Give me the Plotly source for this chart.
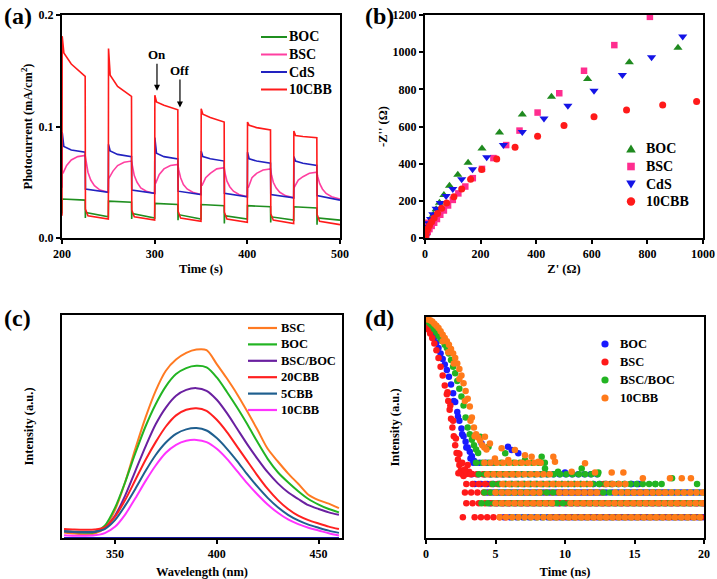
import numpy as np
import plotly.graph_objects as go

W, H = 717, 579
FONT = "Liberation Serif"

# ---------------- (a) transient photocurrent ----------------
LIGHT_ON = [200, 250, 300, 350, 400, 450]
LIGHT_OFF = [225, 275, 325, 375, 425, 475]

BOC_START = 0.022
BOC_ON_START = [0.035, 0.033, 0.031, 0.030, 0.029, 0.028]
BOC_ON_END = [0.034, 0.032, 0.030, 0.029, 0.028, 0.027]
BOC_OFF_DIP = [0.018, 0.017, 0.016, 0.013, 0.014, 0.012]
BOC_OFF_START = [0.023, 0.022, 0.021, 0.020, 0.019, 0.018]
BOC_OFF_END = [0.019, 0.018, 0.017, 0.017, 0.016, 0.016]

BSC_START = 0.060
BSC_ON_0 = [0.060, 0.053, 0.052, 0.048, 0.046, 0.047]
BSC_ON_1 = [0.058, 0.054, 0.049, 0.047, 0.045, 0.046]
BSC_ON_5 = [0.065, 0.060, 0.057, 0.054, 0.054, 0.052]
BSC_ON_10 = [0.070, 0.065, 0.062, 0.058, 0.058, 0.055]
BSC_ON_17 = [0.073, 0.068, 0.065, 0.062, 0.061, 0.058]
BSC_ON_END = [0.074, 0.069, 0.066, 0.063, 0.062, 0.059]
BSC_OFF_1 = [0.068, 0.064, 0.061, 0.058, 0.057, 0.055]
BSC_OFF_3 = [0.059, 0.056, 0.054, 0.051, 0.050, 0.049]
BSC_OFF_6 = [0.052, 0.050, 0.048, 0.046, 0.045, 0.044]
BSC_OFF_10 = [0.047, 0.045, 0.044, 0.042, 0.041, 0.040]
BSC_OFF_16 = [0.043, 0.042, 0.041, 0.039, 0.038, 0.037]
BSC_OFF_END = [0.041, 0.040, 0.039, 0.037, 0.036, 0.035]

CDS_START = 0.045
CDS_PEAK = [0.095, 0.084, 0.090, 0.078, 0.077, 0.073]
CDS_ON_2S = [0.082, 0.078, 0.076, 0.073, 0.071, 0.069]
CDS_ON_10S = [0.079, 0.075, 0.073, 0.071, 0.069, 0.067]
CDS_ON_END = [0.077, 0.073, 0.071, 0.069, 0.067, 0.065]
CDS_OFF_START = [0.044, 0.043, 0.042, 0.040, 0.039, 0.038]
CDS_OFF_END = [0.041, 0.040, 0.039, 0.037, 0.036, 0.034]

CBB10_START = 0.020
CBB10_PEAK = [0.181, 0.170, 0.128, 0.116, 0.104, 0.096]
CBB10_ON_2S = [0.166, 0.146, 0.122, 0.111, 0.101, 0.092]
CBB10_ON_10S = [0.156, 0.136, 0.119, 0.108, 0.099, 0.091]
CBB10_ON_END = [0.145, 0.127, 0.115, 0.104, 0.097, 0.090]
CBB10_OFF_START = [0.026, 0.025, 0.024, 0.023, 0.022, 0.021]
CBB10_OFF_3S = [0.020, 0.019, 0.018, 0.017, 0.016, 0.015]
CBB10_OFF_END = [0.017, 0.016, 0.015, 0.014, 0.013, 0.012]

# ---------------- (b) Nyquist plots ----------------
BOC_ZRE = [1, 3, 6, 10, 15, 22, 30, 40, 52, 68, 88, 118, 155, 205, 268, 350, 455, 585, 735, 910]
BOC_ZIM = [8, 22, 38, 55, 75, 98, 125, 155, 190, 232, 281, 341, 405, 482, 568, 665, 760, 856, 946, 1024]
BSC_ZRE = [2, 5, 10, 16, 24, 33, 43, 55, 68, 83, 100, 120, 145, 172, 205, 246, 292, 340, 405, 483, 572, 681, 809, 8]
BSC_ZIM = [8, 20, 33, 48, 65, 82, 102, 125, 148, 175, 205, 240, 277, 322, 372, 430, 500, 578, 675, 779, 900, 1038, 1190, 82]
CDS_ZRE = [1, 2, 4, 8, 13, 20, 28, 40, 55, 76, 100, 132, 171, 222, 282, 350, 428, 514, 608, 710, 815, 927]
CDS_ZIM = [10, 25, 42, 60, 80, 102, 128, 158, 188, 226, 264, 316, 370, 434, 500, 570, 643, 712, 793, 877, 972, 1084]
CBB10_ZRE = [1, 2, 5, 10, 16, 24, 33, 45, 60, 78, 104, 132, 164, 204, 258, 324, 405, 500, 608, 725, 855, 977]
CBB10_ZIM = [5, 18, 33, 50, 67, 87, 108, 132, 160, 188, 222, 264, 316, 368, 425, 488, 548, 605, 653, 689, 716, 734]

# ---------------- (c) PL spectra ----------------
WL = [325, 330, 335, 340, 345, 350, 355, 360, 365, 370, 375, 380, 385, 390,
      395, 400, 405, 410, 415, 420, 425, 430, 435, 440, 445, 450, 455, 460]
PL_BSC = [0.025, 0.020, 0.016, 0.020, 0.045, 0.125, 0.25, 0.40, 0.54, 0.66, 0.75, 0.80, 0.83, 0.845,
          0.842, 0.78, 0.715, 0.645, 0.567, 0.485, 0.40, 0.343, 0.29, 0.243, 0.194, 0.17, 0.154, 0.134]
PL_BOC = [0.030, 0.026, 0.024, 0.026, 0.055, 0.135, 0.25, 0.38, 0.50, 0.60, 0.68, 0.735, 0.762, 0.772,
          0.765, 0.72, 0.655, 0.585, 0.51, 0.43, 0.355, 0.295, 0.25, 0.21, 0.175, 0.15, 0.13, 0.115]
PL_BSCBOC = [0.030, 0.027, 0.026, 0.028, 0.045, 0.10, 0.19, 0.30, 0.41, 0.51, 0.585, 0.638, 0.664, 0.672,
             0.66, 0.62, 0.56, 0.49, 0.42, 0.355, 0.295, 0.245, 0.205, 0.175, 0.147, 0.13, 0.115, 0.104]
PL_20CBB = [0.040, 0.038, 0.037, 0.038, 0.048, 0.095, 0.17, 0.26, 0.35, 0.43, 0.50, 0.55, 0.575, 0.582,
            0.57, 0.53, 0.475, 0.41, 0.345, 0.28, 0.22, 0.17, 0.13, 0.10, 0.08, 0.065, 0.051, 0.040]
PL_5CBB = [0.030, 0.028, 0.027, 0.028, 0.040, 0.08, 0.145, 0.22, 0.30, 0.372, 0.428, 0.467, 0.487, 0.493,
           0.482, 0.448, 0.40, 0.345, 0.285, 0.23, 0.18, 0.138, 0.104, 0.079, 0.06, 0.046, 0.033, 0.023]
PL_10CBB = [0.012, 0.010, 0.010, 0.012, 0.022, 0.05, 0.105, 0.178, 0.255, 0.325, 0.382, 0.418, 0.436, 0.44,
            0.43, 0.40, 0.355, 0.30, 0.245, 0.195, 0.15, 0.113, 0.083, 0.062, 0.046, 0.034, 0.021, 0.011]

# ---------------- (d) TRPL decay ----------------
TCSPC_STEP_NS = 0.45
BOC_DECAY_T = [0.0, 0.15, 0.3, 0.45, 0.6, 0.75, 0.9, 1.05, 1.2, 1.35, 1.5, 1.65, 1.8, 1.95, 2.1, 2.25,
               2.4, 2.55, 2.7, 2.85, 3.0, 3.15, 3.3, 3.45, 3.6, 2.0, 2.3, 2.6, 2.9, 3.2,
               4.0, 5.9, 6.64, 6.16, 10.0, 14.8, 15.3]
BOC_DECAY_V = [0.975, 0.965, 0.95, 0.93, 0.91, 0.885, 0.86, 0.835, 0.81, 0.785, 0.76, 0.73, 0.695, 0.655,
               0.615, 0.57, 0.53, 0.495, 0.46, 0.435, 0.41, 0.39, 0.37, 0.35, 0.34, 0.62, 0.55, 0.47, 0.41, 0.36,
               0.428, 0.413, 0.383, 0.398, 0.296, 0.244, 0.244]
BSC_DECAY_T = [0.0, 0.15, 0.3, 0.45, 0.6, 0.75, 0.9, 1.05, 1.2, 1.35, 1.5, 1.6, 1.7, 1.8, 1.9, 2.0, 2.1,
               2.2, 2.3, 2.4, 2.5, 2.6, 2.7, 1.55, 1.75, 1.95, 2.15, 2.4, 2.6, 2.8, 2.9, 3.1, 3.3, 3.0,
               2.33, 2.57, 2.8, 2.33]
BSC_DECAY_V = [0.965, 0.945, 0.925, 0.905, 0.88, 0.85, 0.815, 0.775, 0.735, 0.69, 0.65, 0.62, 0.58, 0.54,
               0.50, 0.46, 0.42, 0.385, 0.355, 0.33, 0.305, 0.29, 0.28, 0.66, 0.60, 0.53, 0.45, 0.38, 0.34,
               0.31, 0.29, 0.30, 0.29, 0.33, 0.383, 0.338, 0.308, 0.293]
BSCBOC_DECAY_T = [0.0, 0.15, 0.3, 0.45, 0.6, 0.75, 0.9, 1.05, 1.2, 1.35, 1.5, 1.65, 1.8, 1.95, 2.1, 2.25,
                  2.4, 2.55, 2.7, 2.85, 3.0, 3.15, 3.3, 3.45, 3.6, 3.75,
                  3.9, 4.5, 5.7, 7.12, 8.32, 8.2, 8.56, 9.5, 11.2, 12.4, 16.5, 17.7, 19.5]
BSCBOC_DECAY_V = [0.985, 0.98, 0.97, 0.96, 0.945, 0.93, 0.915, 0.90, 0.89, 0.875, 0.86, 0.835, 0.805, 0.775,
                  0.745, 0.71, 0.675, 0.64, 0.60, 0.545, 0.50, 0.47, 0.445, 0.42, 0.40, 0.385,
                  0.458, 0.413, 0.383, 0.353, 0.368, 0.341, 0.315, 0.30, 0.315, 0.296, 0.244, 0.270, 0.244]
CBB10_DECAY_T = [0.0, 0.15, 0.3, 0.45, 0.6, 0.75, 0.9, 1.05, 1.2, 1.35, 1.5, 1.65, 1.8, 1.95, 2.1, 2.25,
                 2.4, 2.55, 2.7, 2.85, 3.0, 3.15, 3.3, 3.45, 3.6, 3.75, 3.9, 4.05, 4.2, 4.35,
                 1.2, 1.6, 2.0, 2.4, 2.8, 3.2, 3.5,
                 4.24, 4.6, 5.44, 6.4, 7.12, 7.6, 9.16, 11.44, 9.28, 8.08, 5.92, 4.96, 10.48, 12.16,
                 13.36, 14.2, 15.6, 17.55, 18.4, 19.06]
CBB10_DECAY_V = [0.99, 0.99, 0.985, 0.98, 0.97, 0.96, 0.95, 0.935, 0.92, 0.905, 0.89, 0.875, 0.855, 0.835,
                 0.815, 0.79, 0.765, 0.735, 0.70, 0.665, 0.63, 0.595, 0.545, 0.50, 0.47, 0.455, 0.44, 0.42,
                 0.41, 0.40,
                 0.89, 0.84, 0.79, 0.72, 0.62, 0.53, 0.46,
                 0.458, 0.428, 0.406, 0.398, 0.375, 0.368, 0.368, 0.338, 0.345, 0.345, 0.353, 0.36, 0.30,
                 0.296, 0.296, 0.296, 0.270, 0.270, 0.270, 0.270]
# quantised tail: (count level, first channel time, last channel time)
BOC_TAIL = [(0.094, 5.6, 20.0), (0.157, 4.6, 20.0), (0.206, 4.4, 20.0), (0.244, 3.5, 15.4),
            (0.288, 3.3, 12.6), (0.341, 3.4, 5.0)]
BSC_TAIL = [(0.094, 2.65, 2.75), (0.094, 3.5, 5.8), (0.094, 9.0, 20.0), (0.157, 2.9, 20.0),
            (0.206, 2.8, 13.0), (0.206, 14.5, 17.2), (0.244, 2.9, 9.5), (0.244, 12.8, 13.4),
            (0.288, 3.2, 6.5)]
BSCBOC_TAIL = [(0.094, 6.2, 20.0), (0.157, 4.0, 20.0), (0.206, 4.2, 20.0), (0.244, 4.8, 17.0),
               (0.288, 3.8, 12.6), (0.341, 3.6, 8.8)]
CBB10_TAIL = [(0.094, 5.3, 20.0), (0.157, 5.0, 9.2), (0.157, 10.4, 20.0), (0.206, 5.0, 8.5),
              (0.206, 9.6, 12.4), (0.206, 13.6, 20.0), (0.244, 5.5, 11.8), (0.244, 13.0, 14.6),
              (0.288, 4.4, 9.0), (0.341, 4.2, 8.6)]


def px_x(p):
    return p / W


def px_y(p):
    return 1 - p / H


def photo_series(start, on_knots, off_knots):
    t, y = [LIGHT_ON[0]], [start]
    for i, (ton, toff) in enumerate(zip(LIGHT_ON, LIGHT_OFF)):
        for dt, vals in on_knots:
            t.append(ton + dt)
            y.append(vals[i])
        for dt, vals in off_knots:
            t.append(toff + dt)
            y.append(vals[i])
    return t, y


def tail_points(decay_t, decay_v, tail):
    t, v = list(decay_t), list(decay_v)
    for level, t0, t1 in tail:
        ch = np.arange(t0, t1 + 1e-9, TCSPC_STEP_NS)
        t += list(ch)
        v += [level] * len(ch)
    return t, v


fig = go.Figure()

# (a)
a_series = [
    ("BOC", "#1f8f1f", photo_series(BOC_START,
        [(0.2, BOC_ON_START), (25, BOC_ON_END)],
        [(0.2, BOC_OFF_DIP), (0.5, BOC_OFF_START), (25, BOC_OFF_END)])),
    ("BSC", "#ff3fa0", photo_series(BSC_START,
        [(0.2, BSC_ON_0), (1, BSC_ON_1), (5, BSC_ON_5), (10, BSC_ON_10), (17, BSC_ON_17), (25, BSC_ON_END)],
        [(1, BSC_OFF_1), (3, BSC_OFF_3), (6, BSC_OFF_6), (10, BSC_OFF_10), (16, BSC_OFF_16), (25, BSC_OFF_END)])),
    ("CdS", "#2222c0", photo_series(CDS_START,
        [(0.2, CDS_PEAK), (2, CDS_ON_2S), (10, CDS_ON_10S), (25, CDS_ON_END)],
        [(0.3, CDS_OFF_START), (25, CDS_OFF_END)])),
    ("10CBB", "#ff1a1a", photo_series(CBB10_START,
        [(0.2, CBB10_PEAK), (2, CBB10_ON_2S), (10, CBB10_ON_10S), (25, CBB10_ON_END)],
        [(0.3, CBB10_OFF_START), (3, CBB10_OFF_3S), (25, CBB10_OFF_END)])),
]
for name, color, (t, y) in a_series:
    fig.add_trace(go.Scatter(x=t, y=y, mode="lines", name=name, line=dict(color=color, width=1.6),
                             xaxis="x", yaxis="y", showlegend=False))

# (b)
b_series = [
    ("BOC", "#1f8a1f", "triangle-up", BOC_ZRE, BOC_ZIM, 8),
    ("BSC", "#ff2d8f", "square", BSC_ZRE, BSC_ZIM, 6.5),
    ("CdS", "#1414e6", "triangle-down", CDS_ZRE, CDS_ZIM, 8),
    ("10CBB", "#ff1a1a", "circle", CBB10_ZRE, CBB10_ZIM, 7),
]
for name, color, sym, xs, ys, sz in b_series:
    fig.add_trace(go.Scatter(x=xs, y=ys, mode="markers", name=name,
                             marker=dict(color=color, symbol=sym, size=sz, line=dict(width=0)),
                             xaxis="x2", yaxis="y2", showlegend=False))

# (c)
c_series = [
    ("BSC", "#ff7a22", PL_BSC), ("BOC", "#22b422", PL_BOC), ("BSC/BOC", "#6a20a0", PL_BSCBOC),
    ("20CBB", "#ff2020", PL_20CBB), ("5CBB", "#1f5f8f", PL_5CBB), ("10CBB", "#ff33ff", PL_10CBB),
]
fig.add_trace(go.Scatter(x=[WL[0], WL[-1]], y=[0.0, 0.0], mode="lines", showlegend=False,
                         line=dict(color="#1a1aa0", width=2), xaxis="x3", yaxis="y3", hoverinfo="skip"))
for name, color, vals in c_series:
    fig.add_trace(go.Scatter(x=WL, y=vals, mode="lines", name=name,
                             line=dict(color=color, width=2, shape="spline", smoothing=0.8),
                             xaxis="x3", yaxis="y3", showlegend=False))

# (d)
d_series = [
    ("BOC", "#1a1aff", BOC_DECAY_T, BOC_DECAY_V, BOC_TAIL),
    ("BSC", "#ff1a1a", BSC_DECAY_T, BSC_DECAY_V, BSC_TAIL),
    ("BSC/BOC", "#22b422", BSCBOC_DECAY_T, BSCBOC_DECAY_V, BSCBOC_TAIL),
    ("10CBB", "#ff7a1a", CBB10_DECAY_T, CBB10_DECAY_V, CBB10_TAIL),
]
for name, color, dt, dv, tail in d_series:
    t, v = tail_points(dt, dv, tail)
    fig.add_trace(go.Scatter(x=t, y=v, mode="markers", name=name,
                             marker=dict(color=color, size=6.5, line=dict(width=0)),
                             xaxis="x4", yaxis="y4", showlegend=False))

tickfont = dict(family=FONT, size=12, color="black", weight="bold")
titlefont = dict(family=FONT, size=12.5, color="black", weight="bold")


def axis(domain, rng, anchor, title, dtick=None, showlabels=True, standoff=None, fmt=None):
    d = dict(domain=domain, range=rng, anchor=anchor, showline=True, linecolor="black", linewidth=2,
             mirror=True, showgrid=False, zeroline=False, tickfont=tickfont, automargin=False,
             title=dict(text=title, font=titlefont))
    if standoff is not None:
        d["title"]["standoff"] = standoff
    if showlabels:
        d.update(ticks="outside", ticklen=4, tickwidth=2, tickcolor="black", dtick=dtick)
        if fmt:
            d["tickformat"] = fmt
    else:
        d.update(ticks="", showticklabels=False)
    return d


XA = [px_x(62), px_x(340)]
YA = [px_y(238), px_y(15)]
XB = [px_x(425), px_x(703)]
XC = [px_x(62), px_x(342)]
YC = [px_y(538), px_y(315)]
XD = [px_x(426), px_x(704)]
YD = [px_y(538), px_y(317)]

fig.update_layout(
    width=W, height=H, margin=dict(l=0, r=0, t=0, b=0, autoexpand=False),
    paper_bgcolor="white", plot_bgcolor="white", showlegend=False,
    xaxis=axis(XA, [200, 500], "y", "Time (s)", 100, standoff=4),
    yaxis=axis(YA, [0, 0.2], "x", "Photocurrent (mA/cm<sup>2</sup>)", 0.1, standoff=3, fmt=".1f"),
    xaxis2=axis(XB, [0, 1000], "y2", "Z' (Ω)", 200, standoff=4),
    yaxis2=axis(YA, [0, 1200], "x2", "-Z'' (Ω)", 200, standoff=2),
    xaxis3=axis(XC, [324, 461.5], "y3", "Wavelength (nm)", 50, standoff=8),
    yaxis3=axis(YC, [0, 1], "x3", "Intensity (a.u.)", showlabels=False, standoff=24),
    xaxis4=axis(XD, [0, 20], "y4", "Time (ns)", 5, standoff=8),
    yaxis4=axis(YD, [0, 1], "x4", "Intensity (a.u.)", showlabels=False, standoff=22),
)


# ---------- legends (drawn as keys + text so the row spacing matches) ----------
def key_text(text, x, y, size):
    fig.add_annotation(text=text, x=px_x(x), y=px_y(y), xref="paper", yref="paper",
                       xanchor="left", yanchor="middle", showarrow=False, borderpad=0,
                       font=dict(family=FONT, size=size, color="black", weight="bold"))


def key_line(x0, x1, y, color, width):
    fig.add_shape(type="line", xref="paper", yref="paper", x0=px_x(x0), x1=px_x(x1),
                  y0=px_y(y), y1=px_y(y), line=dict(color=color, width=width))


def key_marker(sym, cx, cy, r, color):
    if sym == "circle":
        fig.add_shape(type="circle", xref="paper", yref="paper", x0=px_x(cx - r), x1=px_x(cx + r),
                      y0=px_y(cy + r), y1=px_y(cy - r), fillcolor=color, line=dict(width=0))
    elif sym == "square":
        fig.add_shape(type="rect", xref="paper", yref="paper", x0=px_x(cx - r), x1=px_x(cx + r),
                      y0=px_y(cy + r), y1=px_y(cy - r), fillcolor=color, line=dict(width=0))
    else:
        s = -1 if sym == "triangle-up" else 1
        pts = [(cx, cy + s * r * 1.05), (cx - r * 1.15, cy - s * r * 0.85), (cx + r * 1.15, cy - s * r * 0.85)]
        path = "M " + " L ".join(f"{px_x(a):.5f},{px_y(b):.5f}" for a, b in pts) + " Z"
        fig.add_shape(type="path", xref="paper", yref="paper", path=path, fillcolor=color,
                      line=dict(width=0))


for i, (name, color, _) in enumerate(a_series):
    y = 37 + 17.5 * i
    key_line(261, 287, y, color, 2)
    key_text(name, 288, y, 14)

for i, (name, color, sym, _, _, _) in enumerate(b_series):
    y = 149 + 17.5 * i
    key_marker(sym, 631, y, 4.2 if sym != "square" else 3.8, color)
    key_text(name, 645, y, 14)

for i, (name, color, _) in enumerate(c_series):
    y = 328 + 16.4 * i
    key_line(248, 277, y, color, 2.2)
    key_text(name, 280, y, 12.5)

for i, (name, color, _, _, _) in enumerate(d_series):
    y = 344 + 18 * i
    key_marker("circle", 605, y, 3.6, color)
    key_text(name, 619, y, 12.5)

panel_font = dict(family=FONT, size=24, color="black", weight="bold")
for label, xp, yp in [("(a)", 2, 16), ("(b)", 363, 16), ("(c)", 2, 318), ("(d)", 363, 318)]:
    fig.add_annotation(text=label, x=px_x(xp), y=px_y(yp), xref="paper", yref="paper",
                       xanchor="left", yanchor="middle", showarrow=False, font=panel_font)

arrow_font = dict(family=FONT, size=13, color="black", weight="bold")
fig.add_annotation(text="On", x=302.5, y=0.132, xref="x", yref="y", ax=0, ay=-36, showarrow=True,
                   arrowhead=2, arrowsize=1, arrowwidth=1.2, arrowcolor="black", font=arrow_font)
fig.add_annotation(text="Off", x=327.3, y=0.117, xref="x", yref="y", ax=0, ay=-37, showarrow=True,
                   arrowhead=2, arrowsize=1, arrowwidth=1.2, arrowcolor="black", font=arrow_font)

fig.write_html("out.html", config={"displayModeBar": False},
               post_script="document.body.style.margin='0px';")
